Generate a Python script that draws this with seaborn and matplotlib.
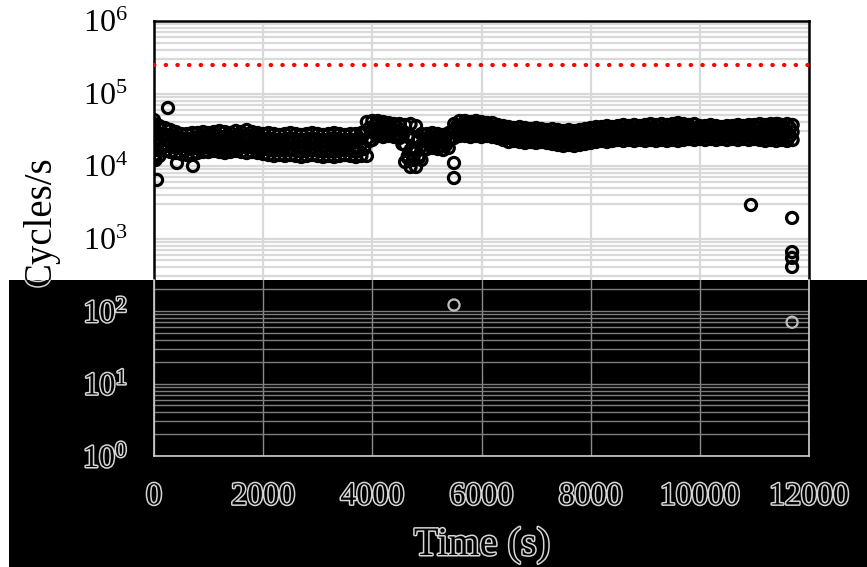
import matplotlib
matplotlib.use("Agg")
import matplotlib.pyplot as plt
import matplotlib.patheffects as pe
from matplotlib.patches import Rectangle
from matplotlib.ticker import LogLocator, NullFormatter
import pandas as pd
import seaborn as sns

# ---------------- data ----------------
times = [0, 100, 200, 300, 400, 500, 600, 700, 800, 900,
         1000, 1100, 1200, 1300, 1400, 1500, 1600, 1700, 1800, 1900,
         2000, 2100, 2200, 2300, 2400, 2500, 2600, 2700, 2800, 2900,
         3000, 3100, 3200, 3300, 3400, 3500, 3600, 3700, 3800, 3900,
         4000, 4100, 4200, 4300, 4400, 4500, 4600, 4700, 4800, 4900,
         5000, 5100, 5200, 5300, 5400, 5500, 5600, 5700, 5800, 5900,
         6000, 6100, 6200, 6300, 6400, 6500, 6600, 6700, 6800, 6900,
         7000, 7100, 7200, 7300, 7400, 7500, 7600, 7700, 7800, 7900,
         8000, 8100, 8200, 8300, 8400, 8500, 8600, 8700, 8800, 8900,
         9000, 9100, 9200, 9300, 9400, 9500, 9600, 9700, 9800, 9900,
         10000, 10100, 10200, 10300, 10400, 10500, 10600, 10700, 10800, 10900,
         11000, 11100, 11200, 11300, 11400, 11500, 11600, 11700]

cycles_high = [37960, 35620, 33430, 31380, 29440, 27630, 27630, 28520, 28520, 29440,
               28520, 29440, 30400, 29440, 28520, 30400, 29440, 31380, 29440, 28520,
               27630, 28520, 27630, 26770, 27630, 28520, 27630, 26770, 27630, 28520,
               27630, 26770, 27630, 28520, 27630, 26770, 27630, 27630, 28520, 40450,
               41800, 41800, 40450, 39180, 37960, 37960, 36800, 37960, 35620, 27630,
               27630, 28520, 27630, 26770, 28520, 37960, 41800, 41800, 40450, 41800,
               40450, 39180, 39180, 36800, 35620, 34510, 33430, 34510, 33430, 32380,
               33430, 32380, 31380, 32380, 31380, 30400, 31380, 30400, 31380, 32380,
               33430, 34510, 34510, 35620, 34510, 35620, 36800, 35620, 36800, 35620,
               36800, 37960, 36800, 37960, 36800, 37960, 39180, 37960, 36800, 37960,
               35620, 35620, 36800, 35620, 34510, 35620, 35620, 36800, 35620, 36800,
               36800, 37960, 36800, 37960, 37960, 36800, 37960, 36800]

cycles_mid = [22130, 22130, 22830, 22130, 21430, 20110, 19490, 20760, 20760, 21430,
              21430, 22130, 21430, 20760, 21430, 22130, 21430, 22130, 21430, 20760,
              20110, 20110, 19490, 19490, 19490, 20110, 19490, 18880, 19490, 20110,
              19490, 18880, 19490, 19490, 19490, 19490, 19490, 18880, 20110, 23570,
              31380, 32380, 32380, 31380, 31380, 30400, 19490, 16620, 15600, 18880,
              22130, 22830, 22130, 21430, 22830, 30400, 33430, 32380, 32380, 33430,
              32380, 31380, 31380, 30400, 28520, 27630, 26770, 27630, 26770, 25930,
              26770, 25930, 25930, 25120, 25120, 24330, 24330, 24330, 25120, 25120,
              25930, 27630, 27630, 27630, 27630, 28520, 28520, 28520, 28520, 28520,
              28520, 29440, 28520, 29440, 28520, 29440, 29440, 29440, 29440, 29440,
              29440, 28520, 29440, 28520, 28520, 28520, 29440, 29440, 29440, 29440,
              29440, 29440, 28520, 29440, 29440, 29440, 29440, 29440]

cycles_low = [12890, 13740, 16100, 15600, 15110, 14640, 14180, 14640, 15110, 15600,
              15600, 16100, 15600, 15110, 15600, 16100, 15600, 15110, 15600, 15110,
              14640, 14180, 13740, 14180, 13740, 14180, 13740, 13310, 13740, 14180,
              13740, 13310, 13740, 13310, 13740, 14180, 13740, 13310, 13740, 13740,
              22830, 25930, 25120, 25930, 25120, 24330, 11360, 9690, 9690, 12100,
              17160, 17720, 17160, 16620, 17720, 24330, 25930, 25930, 25120, 25930,
              25120, 25930, 25120, 24330, 22830, 21430, 22130, 21430, 20760, 21430,
              20760, 21430, 20760, 20110, 19490, 18880, 19490, 18880, 19490, 20110,
              20760, 21430, 22130, 21430, 22130, 22830, 22130, 22830, 22130, 22830,
              22130, 22830, 22130, 22830, 22130, 22830, 22130, 22830, 23570, 22830,
              23570, 22830, 23570, 22830, 23570, 22830, 23570, 22830, 23570, 22830,
              23570, 22830, 22130, 22830, 22130, 22830, 22130, 22830]

half_times = [50, 150, 250, 350, 450, 550, 650, 750, 850, 950,
              1050, 1150, 1250, 1350, 1450, 1550, 1650, 1750, 1850, 1950,
              2050, 2150, 2250, 2350, 2450, 2550, 2650, 2750, 2850, 2950,
              3050, 3150, 3250, 3350, 3450, 3550, 3650, 3750, 3850, 3950,
              4050, 4150, 4250, 4350, 4450, 4550, 4650, 4750, 4850, 4950,
              5050, 5150, 5250, 5350, 5450, 5550, 5650, 5750, 5850, 5950,
              6050, 6150, 6250, 6350, 6450, 6550, 6650, 6750, 6850, 6950,
              7050, 7150, 7250, 7350, 7450, 7550, 7650, 7750, 7850, 7950,
              8050, 8150, 8250, 8350, 8450, 8550, 8650, 8750, 8850, 8950,
              9050, 9150, 9250, 9350, 9450, 9550, 9650, 9750, 9850, 9950,
              10050, 10150, 10250, 10350, 10450, 10550, 10650, 10750, 10850, 10950,
              11050, 11150, 11250, 11350, 11450, 11550, 11650]

cycles_upper_mid = [28520, 27630, 26770, 25930, 24330, 23570, 23570, 24330, 25120, 25120,
                    25120, 25930, 25120, 25120, 25120, 25930, 25930, 25930, 25120, 24330,
                    23570, 23570, 22830, 22830, 23570, 23570, 22830, 22830, 23570, 23570,
                    22830, 22830, 23570, 23570, 22830, 22830, 22830, 23570, 27630, 33430,
                    36800, 36800, 35620, 34510, 34510, 30400, 25930, 24330, 23570, 23570,
                    25120, 25120, 24330, 25120, 29440, 35620, 36800, 36800, 36800, 36800,
                    35620, 35620, 34510, 32380, 31380, 30400, 30400, 30400, 29440, 29440,
                    29440, 28520, 28520, 28520, 27630, 27630, 27630, 27630, 28520, 28520,
                    30400, 30400, 31380, 31380, 31380, 32380, 32380, 32380, 32380, 32380,
                    32380, 32380, 32380, 32380, 32380, 33430, 33430, 33430, 33430, 32380,
                    32380, 32380, 32380, 31380, 31380, 32380, 32380, 32380, 32380, 32380,
                    33430, 32380, 32380, 33430, 33430, 33430, 33430]

cycles_lower_mid = [17160, 18290, 18880, 18290, 17720, 16620, 17160, 17720, 17720, 18290,
                    18290, 18290, 17720, 17720, 18290, 18290, 18290, 18290, 17720, 17160,
                    17160, 16620, 16620, 16620, 16620, 16620, 16100, 16100, 16620, 16620,
                    16100, 16100, 16100, 16100, 16620, 16620, 16100, 16100, 17160, 22130,
                    27630, 28520, 28520, 28520, 27630, 20110, 13740, 12490, 13740, 17160,
                    19490, 19490, 18880, 19490, 23570, 28520, 29440, 28520, 28520, 28520,
                    28520, 28520, 27630, 25930, 25120, 24330, 24330, 23570, 23570, 23570,
                    23570, 23570, 22830, 22130, 21430, 21430, 21430, 21430, 22130, 22830,
                    23570, 24330, 24330, 24330, 25120, 25120, 25120, 25120, 25120, 25120,
                    25120, 25120, 25120, 25120, 25120, 25930, 25930, 25930, 25930, 25930,
                    25930, 25930, 25930, 25930, 25930, 25930, 25930, 25930, 25930, 25930,
                    25930, 25120, 25120, 25930, 25930, 25930, 25930]

extra_times = [0, 10, 20, 30, 60, 80, 4650, 4750, 4850, 4650, 4750, 4850, 11430]
extra_cycles = [43100, 14180, 26770, 12100, 16620, 33430, 25120, 24330, 22830,
                12890, 12100, 12890, 37960]

outlier_times = [256, 421, 714, 55, 5496, 5496, 5496, 10937,
                 11690, 11690, 11690, 11690, 11690]
outlier_cycles = [63100, 11000, 10000, 6420, 11000, 6830, 121, 2900,
                  1920, 650, 540, 405, 70]

limit_cycles = 250000
x_ticks = [0, 2000, 4000, 6000, 8000, 10000, 12000]
y_ticks = [1, 10, 100, 1000, 10000, 100000, 1000000]
x_label = "Time (s)"
y_label = "Cycles/s"

df = pd.DataFrame({
    "time": times * 3 + half_times * 2 + extra_times + outlier_times,
    "cycles": (cycles_high + cycles_mid + cycles_low + cycles_upper_mid
               + cycles_lower_mid + extra_cycles + outlier_cycles),
})

# ---------------- style ----------------
sns.set_style("white")
plt.rcParams["font.family"] = ["Liberation Serif", "DejaVu Serif"]
plt.rcParams["mathtext.fontset"] = "custom"
plt.rcParams["mathtext.rm"] = "Liberation Serif"
plt.rcParams["mathtext.it"] = "Liberation Serif:italic"
plt.rcParams["mathtext.bf"] = "Liberation Serif:bold"

W, H = 867, 567
L, R, T, B = 154, 809, 21, 456
CUT = 280          # top edge of the dark band (pixels)
TICK_FS = 23
LABEL_FS = 29
MS, MLW = 64, 2.3

fig = plt.figure(figsize=(W / 100, H / 100), dpi=100, facecolor="white")

# ---------------- main (light) axes ----------------
ax1 = fig.add_axes([L / W, 1 - B / H, (R - L) / W, (B - T) / H])
ax1.set_zorder(0)
ax1.set_facecolor("white")
ax1.set_yscale("log")
ax1.set_xlim(0, 12000)
ax1.set_ylim(1, 1e6)
ax1.set_xticks(x_ticks)
ax1.set_yticks(y_ticks)
ax1.yaxis.set_minor_locator(LogLocator(base=10, subs=(2, 3, 4, 5, 6, 7, 8, 9), numticks=20))
ax1.yaxis.set_minor_formatter(NullFormatter())
ax1.set_axisbelow(True)
ax1.grid(which="major", axis="both", color="#d9d9d9", lw=1.6)
for d in range(6):
    for m in (3, 4, 5, 6, 7, 8, 9):
        ax1.axhline(m * 10 ** d, color="#d9d9d9", lw=1.6, zorder=0.5)

sns.scatterplot(data=df, x="time", y="cycles", ax=ax1, marker="o", s=MS,
                facecolor="none", edgecolor="black", linewidth=MLW,
                legend=False, zorder=3)
ax1.axhline(limit_cycles, color="#ff0000", lw=3.0,
            linestyle=(0, (0.1, 2.7)), dash_capstyle="round", zorder=4)

ax1.tick_params(axis="y", which="major", direction="in", length=8, width=1.6,
                labelsize=TICK_FS, pad=19, colors="black")
ax1.tick_params(axis="y", which="minor", direction="in", length=5, width=1.4)
ax1.tick_params(axis="x", which="major", direction="in", length=5, width=1.4,
                labelbottom=False)
for sp in ax1.spines.values():
    sp.set_color("black")
    sp.set_linewidth(1.8)
ax1.set_xlabel("")
ax1.set_ylabel("")

fig.text(41 / W, 1 - 222 / H, y_label, rotation=90, ha="center", va="center",
         fontsize=LABEL_FS - 1, color="black", zorder=1)

# ---------------- dark band overlay ----------------
band = Rectangle((9 / W, 0), 1 - 9 / W, 1 - CUT / H, transform=fig.transFigure,
                 facecolor="black", edgecolor="none", zorder=5)
fig.add_artist(band)

outline = [pe.withStroke(linewidth=2.2, foreground="#d6d6d6")]

ax2 = fig.add_axes([L / W, 1 - B / H, (R - L) / W, (B - CUT) / H])
ax2.set_zorder(10)
ax2.patch.set_alpha(0)
ax2.set_yscale("log")
ax2.set_xlim(0, 12000)
ax2.set_ylim(1, 10 ** (6 * (B - CUT) / (B - T)))
ax2.set_xticks(x_ticks)
ax2.set_yticks([1, 10, 100])
ax2.yaxis.set_minor_locator(LogLocator(base=10, subs=(2, 3, 4, 5, 6, 7, 8, 9), numticks=20))
ax2.yaxis.set_minor_formatter(NullFormatter())
ax2.set_axisbelow(True)
ax2.grid(which="both", axis="y", color="#7d7d7d", lw=1.0)
ax2.grid(which="major", axis="x", color="#8a8a8a", lw=1.0)
sns.scatterplot(data=df, x="time", y="cycles", ax=ax2, marker="o", s=MS,
                facecolor="none", edgecolor="#bdbdbd", linewidth=1.6,
                legend=False, zorder=3)
ax2.tick_params(axis="both", which="major", direction="in", length=6, width=1.0,
                colors="#bdbdbd", labelcolor="black", labelsize=TICK_FS, pad=19)
ax2.tick_params(axis="y", which="minor", direction="in", length=4, width=0.9,
                colors="#bdbdbd")
ax2.spines["top"].set_visible(False)
for k in ("left", "right", "bottom"):
    ax2.spines[k].set_color("#cfcfcf")
    ax2.spines[k].set_linewidth(1.2)
ax2.set_xlabel("")
ax2.set_ylabel("")
for lbl in ax2.get_xticklabels() + ax2.get_yticklabels():
    lbl.set_path_effects(outline)

t2 = fig.text(41 / W, 1 - 222 / H, y_label, rotation=90, ha="center", va="center",
              fontsize=LABEL_FS - 1, color="black", zorder=6, path_effects=outline)
t2.set_clip_path(band)
fig.text(482 / W, 1 - 555 / H, x_label, ha="center", va="baseline",
         fontsize=LABEL_FS, color="black", zorder=6, path_effects=outline)

fig.savefig("out.png", dpi=100, facecolor="white")
